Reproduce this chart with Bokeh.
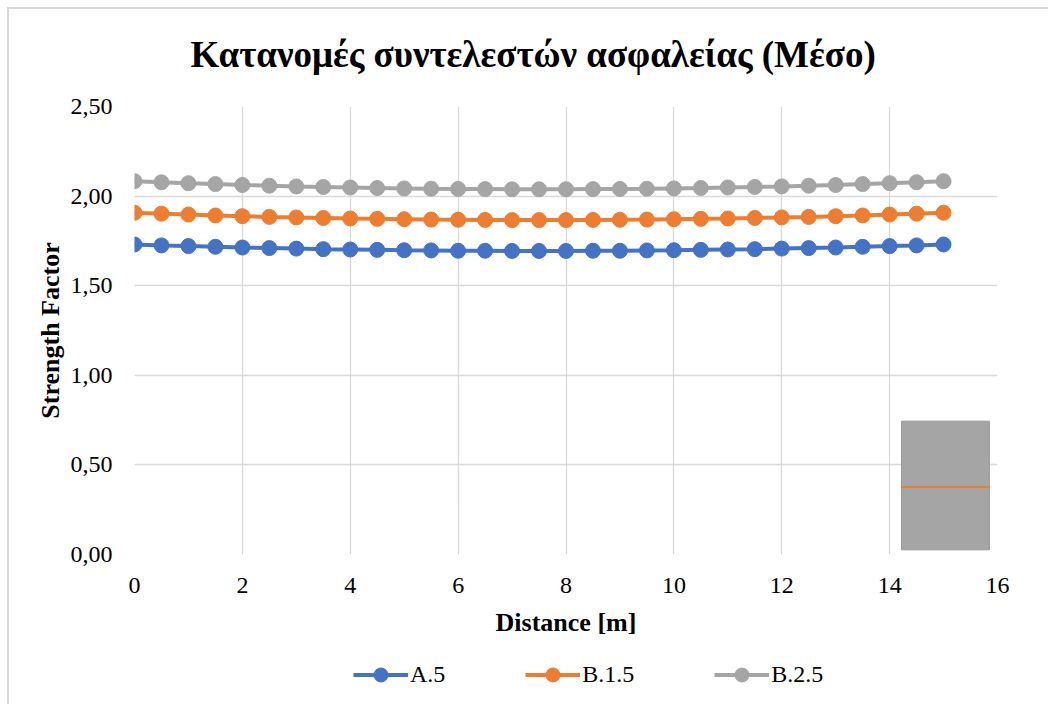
from bokeh.plotting import figure
from bokeh.layouts import column
from bokeh.models import Range1d, FixedTicker, CustomJSTickFormatter, Legend, LegendItem
from bokeh.embed import file_html
from bokeh.resources import INLINE

# ---- data ----
distance = [0, 0.5, 1, 1.5, 2, 2.5, 3, 3.5, 4, 4.5, 5, 5.5, 6, 6.5, 7, 7.5,
            8, 8.5, 9, 9.5, 10, 10.5, 11, 11.5, 12, 12.5, 13, 13.5, 14, 14.5, 15]
a5 = [1.730, 1.725, 1.721, 1.717, 1.713, 1.710, 1.707, 1.704, 1.702, 1.700, 1.698,
      1.697, 1.695, 1.695, 1.694, 1.694, 1.694, 1.695, 1.695, 1.697, 1.698, 1.700,
      1.702, 1.704, 1.707, 1.710, 1.713, 1.717, 1.721, 1.725, 1.730]
b15 = [1.907, 1.902, 1.897, 1.892, 1.888, 1.884, 1.881, 1.878, 1.875, 1.873, 1.871,
       1.869, 1.868, 1.867, 1.866, 1.866, 1.866, 1.867, 1.868, 1.869, 1.871, 1.873,
       1.875, 1.878, 1.881, 1.884, 1.888, 1.892, 1.897, 1.902, 1.907]
b25 = [2.083, 2.077, 2.072, 2.067, 2.062, 2.058, 2.054, 2.051, 2.048, 2.045, 2.043,
       2.041, 2.040, 2.039, 2.038, 2.038, 2.038, 2.039, 2.040, 2.041, 2.043, 2.045,
       2.048, 2.051, 2.054, 2.058, 2.062, 2.067, 2.072, 2.077, 2.083]
series_names = ["A.5", "B.1.5", "B.2.5"]
series_values = [a5, b15, b25]
series_colors = ["#4472C4", "#ED7D31", "#A5A5A5"]

x_ticks = [0, 2, 4, 6, 8, 10, 12, 14, 16]
y_ticks = [0, 0.5, 1.0, 1.5, 2.0, 2.5]

# grey box (inset shape) with orange line
box_left = [14.22]
box_right = [15.85]
box_bottom = [0.026]
box_top = [0.744]
box_mid = [0.376]

FONT = "Liberation Serif"

p = figure(width=1048, height=640, output_backend="svg", toolbar_location=None,
           x_range=Range1d(0, 16), y_range=Range1d(0, 2.5),
           title="Κατανομές συντελεστών ασφαλείας (Μέσο)",
           min_border_left=134, min_border_right=51, min_border_top=106, min_border_bottom=86)
p.outline_line_color = None
p.background_fill_color = "white"
p.border_fill_alpha = 0

p.title.text_font = FONT
p.title.text_font_size = "37px"
p.title.text_font_style = "bold"
p.title.text_color = "black"
p.title.align = "left"
p.title.offset = 56
p.title.standoff = 63

for ax in (p.xaxis[0], p.yaxis[0]):
    ax.axis_line_color = None
    ax.major_tick_line_color = None
    ax.minor_tick_line_color = None
    ax.major_label_text_font = FONT
    ax.major_label_text_font_size = "24px"
    ax.major_label_text_color = "black"
    ax.axis_label_text_font = FONT
    ax.axis_label_text_font_size = "26px"
    ax.axis_label_text_font_style = "bold"
    ax.axis_label_text_color = "black"

p.xaxis.ticker = FixedTicker(ticks=x_ticks)
p.yaxis.ticker = FixedTicker(ticks=y_ticks)
p.yaxis.formatter = CustomJSTickFormatter(code="return tick.toFixed(2).replace('.', ',');")
p.xaxis.axis_label = "Distance [m]"
p.yaxis.axis_label = "Strength Factor"
p.xaxis.major_label_standoff = 17
p.xaxis.axis_label_standoff = 12
p.yaxis.major_label_standoff = 16
p.yaxis.axis_label_standoff = 3

p.xgrid.ticker = FixedTicker(ticks=x_ticks)
p.ygrid.ticker = FixedTicker(ticks=y_ticks)
for g in (p.xgrid[0], p.ygrid[0]):
    g.grid_line_color = "#d9d9d9"
    g.grid_line_width = 1.3

for name, vals, col in zip(series_names, series_values, series_colors):
    p.line(distance, vals, line_color=col, line_width=4)
    p.scatter(distance, vals, size=15, fill_color=col, line_color=col)

p.quad(left=box_left, right=box_right, bottom=box_bottom, top=box_top,
       fill_color="#A5A5A5", line_color="#9a9a9a", line_width=1)
p.segment(x0=box_left, x1=box_right, y0=box_mid, y1=box_mid,
          line_color="#ED7D31", line_width=2)

# ---- legend strip below the chart (series drawn outside its view, only the legend shows) ----
q = figure(width=1048, height=64, output_backend="svg", toolbar_location=None,
           x_range=Range1d(0, 1), y_range=Range1d(-1, 0),
           x_axis_location=None, y_axis_location=None,
           min_border_left=0, min_border_right=0, min_border_top=0, min_border_bottom=0)
q.outline_line_color = None
q.grid.visible = False
q.background_fill_alpha = 0
q.border_fill_alpha = 0

items = []
for name, vals, col in zip(series_names, series_values, series_colors):
    l = q.line(distance, vals, line_color=col, line_width=4)
    s = q.scatter(distance, vals, size=15, fill_color=col, line_color=col)
    items.append(LegendItem(label=name, renderers=[l, s]))

legend = Legend(items=items, orientation="horizontal", location=(219, 12),
                label_text_font=FONT, label_text_font_size="24px", label_text_color="black",
                glyph_width=55, glyph_height=35, label_standoff=2, spacing=80,
                border_line_color=None, background_fill_alpha=0, margin=0, padding=5)
q.add_layout(legend, "center")

layout = column(p, q, spacing=0)
layout.styles = {"box-shadow": "inset 7px 7px 0 0 white, inset 9px 9px 0 0 #d9d9d9"}

open("out.html", "w").write(file_html(layout, INLINE))
